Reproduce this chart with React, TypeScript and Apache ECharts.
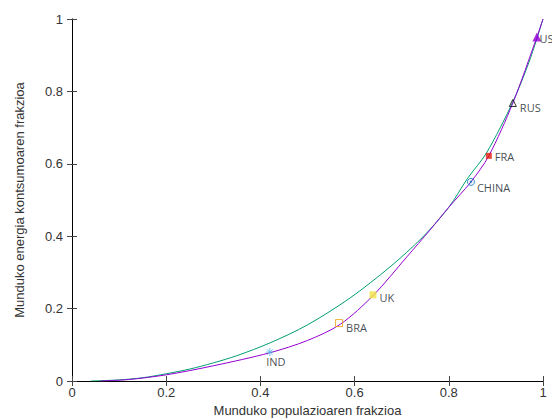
import React, { useEffect, useRef } from "react";
import * as echarts from "echarts";

// Reference (equal-share) Lorenz-like curve — green
const curveAX = [0.04, 0.1, 0.15, 0.2, 0.25, 0.3, 0.35, 0.42, 0.5, 0.59, 0.675, 0.745, 0.8, 0.84, 0.88, 0.936, 0.972, 1];
const curveAY = [0, 0.003, 0.009, 0.02, 0.033, 0.05, 0.07, 0.105, 0.155, 0.229, 0.315, 0.398, 0.48, 0.56, 0.63, 0.771, 0.887, 1];

// Country-based curve — purple
const curveBX = [0.06, 0.12, 0.2, 0.3, 0.42, 0.5, 0.57, 0.64, 0.711, 0.76, 0.8, 0.847, 0.885, 0.936, 0.987, 1];
const curveBY = [0, 0.004, 0.017, 0.042, 0.078, 0.112, 0.157, 0.237, 0.343, 0.417, 0.48, 0.55, 0.622, 0.768, 0.95, 1];

// Country markers
const countries = ["IND", "BRA", "UK", "CHINA", "FRA", "RUS", "US"];
const countryX = [0.42, 0.567, 0.639, 0.847, 0.885, 0.936, 0.987];
const countryY = [0.08, 0.16, 0.238, 0.55, 0.622, 0.768, 0.95];

const xTicks = [0, 0.2, 0.4, 0.6, 0.8, 1];
const yTicks = [0, 0.2, 0.4, 0.6, 0.8, 1];

const ASTERISK = "path://M0,5L10,5M5,0L5,10M1.5,1.5L8.5,8.5M8.5,1.5L1.5,8.5";
const CIRCLE_PLUS = "path://M5,0A5,5,0,1,1,4.99,0ZM5,3L5,7M3,5L7,5";

const markerStyles: any[] = [
  { symbol: ASTERISK, size: 8, color: "transparent", border: "#56b4e9", bw: 1, offset: [6, -4], pos: "bottom" },
  { symbol: "rect", size: 7, color: "transparent", border: "#e69f00", bw: 1, offset: [0, 4], pos: "right" },
  { symbol: "rect", size: 7, color: "#f0e442", border: "#f0e442", bw: 0, offset: [0, 3], pos: "right" },
  { symbol: CIRCLE_PLUS, size: 7, color: "transparent", border: "#0072b2", bw: 1, offset: [-1, 6], pos: "right" },
  { symbol: "rect", size: 6, color: "#e51e10", border: "#e51e10", bw: 0, offset: [0, 1], pos: "right" },
  { symbol: "triangle", size: 7, color: "transparent", border: "#000000", bw: 1, offset: [0, 5], pos: "right" },
  { symbol: "triangle", size: 9, color: "#9400d3", border: "#9400d3", bw: 0, offset: [-5, 1], pos: "right" },
];

export default function App() {
  const ref = useRef<HTMLDivElement>(null);
  useEffect(() => {
    if (!ref.current) return;
    const chart = echarts.init(ref.current, null, { renderer: "svg" });
    const font = "'Liberation Sans', Arial, sans-serif";
    const countrySeries = countries.map((name, i) => {
      const s = markerStyles[i];
      return {
        type: "scatter",
        name,
        xAxisIndex: 0,
        yAxisIndex: 0,
        symbol: s.symbol,
        symbolSize: s.size,
        symbolKeepAspect: true,
        z: 5,
        itemStyle: { color: s.color, borderColor: s.border, borderWidth: s.bw },
        label: {
          show: true,
          position: s.pos,
          distance: 3,
          offset: s.offset,
          formatter: name,
          color: "#111a26",
          fontSize: 11,
          fontFamily: "'Open Sans', sans-serif",
        },
        data: [[countryX[i], countryY[i]]],
      };
    });
    const option: any = {
      animation: false,
      grid: { left: 72, right: 9, top: 19, bottom: 38, outerBoundsMode: "none", containLabel: false },
      xAxis: [
        {
          type: "value",
          min: 0,
          max: 1,
          interval: 0.2,
          name: "Munduko populazioaren frakzioa",
          nameLocation: "middle",
          nameGap: 23,
          nameTextStyle: { color: "#333", fontSize: 13, fontFamily: font },
          axisLine: { lineStyle: { color: "#777", width: 1 } },
          axisTick: { inside: true, length: 5, lineStyle: { color: "#444" } },
          axisLabel: {
            color: "#333",
            fontSize: 13,
            fontFamily: font,
            margin: 5,
            formatter: (v: number) => String(xTicks.find((t) => Math.abs(t - v) < 1e-9) ?? v),
          },
          splitLine: { show: false },
        },
        {
          type: "value",
          position: "top",
          min: 0,
          max: 1,
          interval: 0.2,
          axisLine: { show: true, lineStyle: { color: "#000", width: 1 } },
          axisTick: { inside: true, length: 5, lineStyle: { color: "#444" } },
          axisLabel: { show: false },
          splitLine: { show: false },
        },
      ],
      yAxis: [
        {
          type: "value",
          min: 0,
          max: 1,
          interval: 0.2,
          name: "Munduko energia kontsumoaren frakzioa",
          nameLocation: "middle",
          nameGap: 46,
          nameTextStyle: { color: "#333", fontSize: 13, fontFamily: font },
          axisLine: { show: true, lineStyle: { color: "#777", width: 1 } },
          axisTick: { show: true, inside: true, length: 5, lineStyle: { color: "#444" } },
          axisLabel: {
            color: "#333",
            fontSize: 13,
            fontFamily: font,
            margin: 9,
            formatter: (v: number) => String(yTicks.find((t) => Math.abs(t - v) < 1e-9) ?? v),
          },
          splitLine: { show: false },
        },
        {
          type: "value",
          position: "right",
          min: 0,
          max: 1,
          interval: 0.2,
          axisLine: { show: true, lineStyle: { color: "#000", width: 1 } },
          axisTick: { show: true, inside: true, length: 5, lineStyle: { color: "#444" } },
          axisLabel: { show: false },
          splitLine: { show: false },
        },
      ],
      series: [
        {
          type: "line",
          name: "A",
          smooth: 0.3,
          showSymbol: false,
          lineStyle: { color: "#009e73", width: 1 },
          data: curveAX.map((x, i) => [x, curveAY[i]]),
          z: 2,
        },
        {
          type: "line",
          name: "B",
          smooth: 0.3,
          showSymbol: false,
          lineStyle: { color: "#9400d3", width: 1 },
          data: curveBX.map((x, i) => [x, curveBY[i]]),
          z: 3,
        },
        ...countrySeries,
      ],
    };
    chart.setOption(option);
    return () => chart.dispose();
  }, []);
  return <div ref={ref} style={{ width: 552, height: 419, position: "absolute", left: 0, top: 0 }} />;
}
